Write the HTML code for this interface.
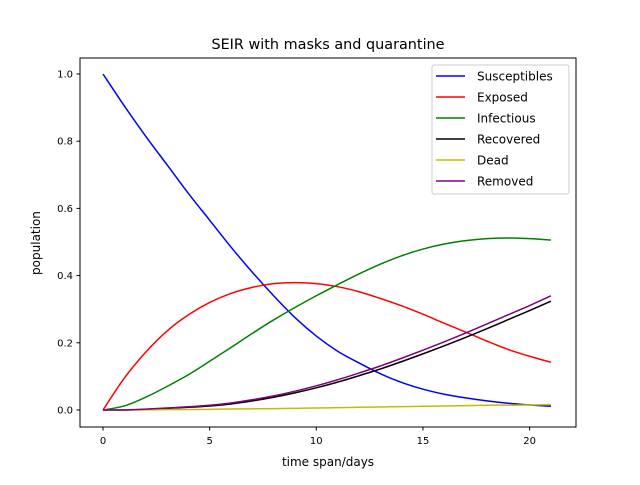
<!DOCTYPE html>
<html><head><meta charset="utf-8"><style>
body{margin:0;background:#fff;}
svg{font-family:"DejaVu Sans","Liberation Sans",sans-serif;}
</style></head><body>
<svg id="chart" width="640" height="480" viewBox="0 0 640 480">
<rect width="640" height="480" fill="#fff"/>
<text x="328" y="49" font-size="14.4" text-anchor="middle">SEIR with masks and quarantine</text>
<g id="plot"></g>
<rect x="80" y="58" width="496" height="369" fill="none" stroke="#000" stroke-width="1"/>
<text x="328" y="466" font-size="12" text-anchor="middle">time span/days</text>
<text x="40" y="243" font-size="12" text-anchor="middle" transform="rotate(-90 40 243)">population</text>
<g id="legend"></g>
</svg>
<script>
const days=[0,1,2,3,4,5,6,7,8,9,10,11,12,13,14,15,16,17,18,19,20,21];
const susceptibles=[1.0,0.905,0.815,0.73,0.645,0.565,0.485,0.41,0.34,0.275,0.22,0.175,0.14,0.108,0.082,0.062,0.047,0.036,0.027,0.02,0.015,0.011];
const exposed=[0,0.095,0.172,0.235,0.283,0.32,0.347,0.365,0.376,0.379,0.376,0.367,0.352,0.332,0.31,0.285,0.258,0.232,0.205,0.18,0.16,0.142];
const infectious=[0,0.012,0.038,0.07,0.105,0.145,0.186,0.228,0.268,0.305,0.34,0.373,0.405,0.434,0.459,0.479,0.494,0.504,0.51,0.512,0.51,0.506];
const recovered=[0,0,0.002,0.005,0.008,0.012,0.018,0.027,0.038,0.051,0.066,0.083,0.102,0.122,0.144,0.167,0.191,0.216,0.242,0.269,0.296,0.324];
const dead=[0,0,0.0005,0.001,0.0015,0.002,0.003,0.0035,0.004,0.005,0.006,0.007,0.008,0.009,0.01,0.011,0.012,0.013,0.014,0.0145,0.015,0.016];
const removed=recovered.map((v,i)=>v+dead[i]);
const xTicks=[0,5,10,15,20];
const yTicks=[0,0.2,0.4,0.6,0.8,1.0];
const yTickLabels=["0.0","0.2","0.4","0.6","0.8","1.0"];
const seriesNames=["Susceptibles","Exposed","Infectious","Recovered","Dead","Removed"];
const seriesData=[susceptibles,exposed,infectious,recovered,dead,removed];
const colors=["#0000ff","#ff0000","#008000","#000000","#bfbf00","#800080"];
const NS="http://www.w3.org/2000/svg";
const X=d=>103+d*21.33;
const Y=v=>410-v*336;
const plot=document.getElementById('plot');
function mk(t,a,p){const e=document.createElementNS(NS,t);for(const k in a)e.setAttribute(k,a[k]);(p||plot).appendChild(e);return e;}
xTicks.forEach(t=>{
 const l=mk('line',{x1:X(t),x2:X(t),y1:427,y2:430.5,stroke:'#000'});
 
 
 const tx=mk('text',{x:X(t),y:444,'font-size':10,'text-anchor':'middle'});tx.textContent=t;
 
 
});
yTicks.forEach((t,i)=>{
 const l=mk('line',{x1:76.5,x2:80,y1:Y(t),y2:Y(t),stroke:'#000'});
 
 
 const tx=mk('text',{x:73,y:Y(t)+3.5,'font-size':10,'text-anchor':'end'});tx.textContent=yTickLabels[i];
 
 
});
function smooth(pts){let d=`M${pts[0][0]},${pts[0][1]}`;for(let i=0;i<pts.length-1;i++){const p0=pts[i-1]||pts[i],p1=pts[i],p2=pts[i+1],p3=pts[i+2]||p2;d+=` C${p1[0]+(p2[0]-p0[0])/6},${p1[1]+(p2[1]-p0[1])/6} ${p2[0]-(p3[0]-p1[0])/6},${p2[1]-(p3[1]-p1[1])/6} ${p2[0]},${p2[1]}`;}return d;}
seriesData.forEach((s,i)=>{
 const p=mk('path',{d:smooth(s.map((v,j)=>[X(days[j]),Y(v)])),fill:'none',stroke:colors[i],'stroke-width':1.5});
 
 
});
const lg=document.getElementById('legend');
mk('rect',{x:432,y:65,width:137,height:129,rx:2,fill:'#fff','fill-opacity':0.8,stroke:'#ccc'},lg);
seriesNames.forEach((n,i)=>{
 const y=76+i*21;
 const l=mk('line',{x1:436,x2:465,y1:y,y2:y,stroke:colors[i],'stroke-width':1.5},lg);
 
 
 const t=mk('text',{x:477,y:y+4.5,'font-size':12},lg);t.textContent=n;
 
 
});
</script>
</body></html>
